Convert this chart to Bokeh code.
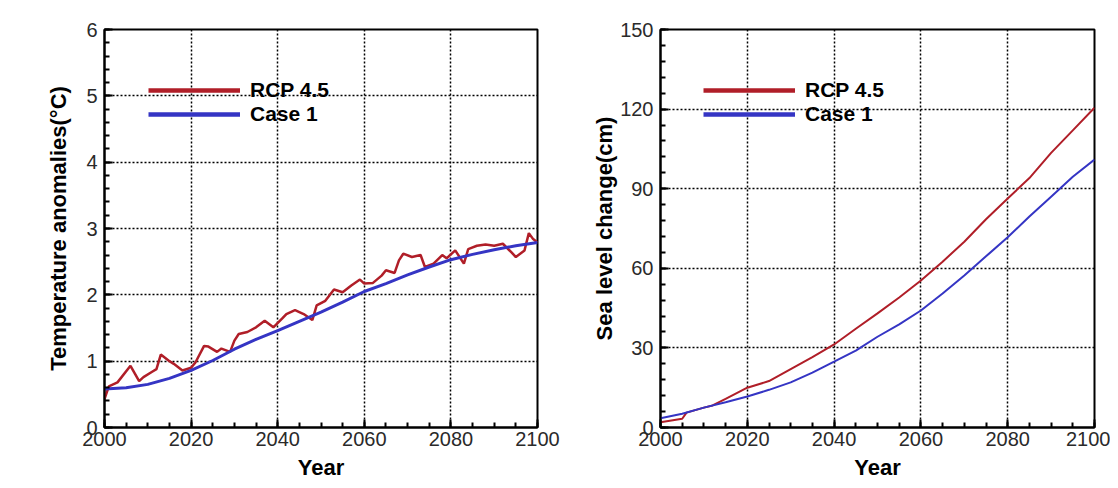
from bokeh.plotting import figure
from bokeh.models import Range1d, FixedTicker, Legend, LegendItem, ColumnDataSource
from bokeh.layouts import row
from bokeh.embed import file_html
from bokeh.resources import INLINE

# ---------------- data ----------------
temp_rcp_years = [2000, 2001, 2003, 2006, 2008, 2009, 2011, 2012, 2013, 2015, 2016, 2018, 2020,
                  2021, 2023, 2024, 2026, 2027, 2029, 2030, 2031, 2033, 2035, 2037, 2039, 2041,
                  2042, 2044, 2046, 2048, 2049, 2051, 2053, 2055, 2057, 2059, 2060, 2062, 2064,
                  2065, 2067, 2068, 2069, 2071, 2073, 2074, 2076, 2078, 2079, 2081, 2083, 2084,
                  2086, 2088, 2090, 2092, 2094, 2095, 2097, 2098, 2099, 2100]
temp_rcp = [0.43, 0.62, 0.68, 0.93, 0.70, 0.76, 0.84, 0.88, 1.10, 1.00, 0.96, 0.86, 0.90,
            0.98, 1.23, 1.22, 1.14, 1.19, 1.14, 1.31, 1.41, 1.44, 1.51, 1.61, 1.51, 1.64,
            1.71, 1.77, 1.71, 1.62, 1.84, 1.91, 2.08, 2.04, 2.14, 2.23, 2.17, 2.18, 2.29,
            2.37, 2.33, 2.52, 2.62, 2.57, 2.60, 2.42, 2.47, 2.60, 2.55, 2.67, 2.47, 2.69,
            2.74, 2.76, 2.74, 2.77, 2.64, 2.57, 2.67, 2.93, 2.84, 2.79]

case_years = [2000, 2005, 2010, 2015, 2020, 2025, 2030, 2035, 2040, 2045, 2050,
              2055, 2060, 2065, 2070, 2075, 2080, 2085, 2090, 2095, 2100]
temp_case1 = [0.58, 0.60, 0.65, 0.74, 0.86, 1.01, 1.18, 1.33, 1.46, 1.60, 1.74,
              1.89, 2.05, 2.17, 2.30, 2.42, 2.53, 2.61, 2.68, 2.74, 2.79]

sea_years = [2000, 2005, 2006, 2010, 2012, 2015, 2020, 2025, 2030, 2035, 2040, 2045, 2050,
             2055, 2060, 2065, 2070, 2075, 2080, 2085, 2090, 2095, 2100]
sea_rcp = [2.0, 3.3, 5.6, 7.5, 8.3, 10.8, 15.0, 17.5, 22.0, 26.5, 31.3, 37.2, 43.0,
           49.0, 55.4, 62.5, 70.0, 78.5, 86.3, 94.0, 103.5, 112.0, 120.5]
sea_case1 = [3.5, 5.2, 7.5, 9.5, 11.7, 14.2, 17.0, 20.7, 24.8, 29.0, 34.2,
             38.9, 44.1, 50.5, 57.3, 64.5, 71.7, 79.5, 87.0, 94.5, 101.0]

series_labels = ["RCP 4.5", "Case 1"]

x_ticks = [2000, 2020, 2040, 2060, 2080, 2100]
x_minor = list(range(2000, 2101, 5))
temp_ticks = [0, 1, 2, 3, 4, 5, 6]
temp_minor = [round(i * 0.2, 1) for i in range(31)]
sea_ticks = [0, 30, 60, 90, 120, 150]
sea_minor = list(range(0, 151, 6))

RED = "#b01e28"
BLUE = "#3535c4"
FONT = "Liberation Sans"


def make_fig(ymax, yticks, yminor, ylabel, fw, min_left, min_right, label_standoff):
    p = figure(frame_width=fw, frame_height=398, output_backend="svg", toolbar_location=None,
               x_range=Range1d(2000, 2100), y_range=Range1d(0, ymax),
               min_border_left=min_left, min_border_right=min_right,
               min_border_top=29, min_border_bottom=53)
    p.background_fill_color = "white"
    p.border_fill_color = "white"
    p.outline_line_color = "black"
    p.outline_line_width = 2
    p.xaxis.ticker = FixedTicker(ticks=x_ticks, minor_ticks=x_minor)
    p.yaxis.ticker = FixedTicker(ticks=yticks, minor_ticks=yminor)
    p.xgrid.ticker = FixedTicker(ticks=x_ticks)
    p.ygrid.ticker = FixedTicker(ticks=yticks)
    for g in (p.xgrid, p.ygrid):
        g.grid_line_color = "black"
        g.grid_line_dash = "2 2"
        g.grid_line_width = 1.5
        g.grid_line_alpha = 1.0
    for ax in (p.xaxis, p.yaxis):
        ax.axis_line_color = "black"
        ax.axis_line_width = 2
        ax.major_tick_in = 8
        ax.major_tick_out = 0
        ax.minor_tick_in = 5
        ax.minor_tick_out = 0
        ax.major_tick_line_width = 2
        ax.minor_tick_line_width = 2
        ax.major_label_text_font = FONT
        ax.major_label_text_font_size = "20px"
        ax.major_label_text_color = "#2a2a2a"
        ax.axis_label_text_font = FONT
        ax.axis_label_text_font_size = "22px"
        ax.axis_label_text_font_style = "bold"
        ax.axis_label_text_color = "black"
    p.xaxis.axis_label = "Year"
    p.xaxis.major_label_standoff = 4
    p.xaxis.axis_label_standoff = 6
    p.yaxis.axis_label = ylabel
    p.yaxis.major_label_standoff = 7
    p.yaxis.axis_label_standoff = label_standoff
    return p


def add_legend(p, x_off, ymax):
    # legend swatches: off-range sample data so only the legend glyph shows
    dummy = ColumnDataSource(data=dict(x=[1800, 1801], y=[-ymax, -ymax]))
    r1 = p.line("x", "y", source=dummy, line_color=RED, line_width=4.5)
    r2 = p.line("x", "y", source=dummy, line_color=BLUE, line_width=4.5)
    leg = Legend(items=[LegendItem(label=series_labels[0], renderers=[r1]),
                        LegendItem(label=series_labels[1], renderers=[r2])],
                 location=(x_off, 301), glyph_width=92, glyph_height=24, label_height=24,
                 label_width=20, spacing=0, padding=0, margin=0, label_standoff=10,
                 background_fill_alpha=0, border_line_alpha=0)
    leg.label_text_font = FONT
    leg.label_text_font_size = "21px"
    leg.label_text_font_style = "bold"
    leg.label_text_color = "black"
    p.add_layout(leg, "center")


# ---------------- left: temperature ----------------
p1 = make_fig(6, temp_ticks, temp_minor, "Temperature anomalies(°C)", 433, 104, 43, 12)
p1.line(temp_rcp_years, temp_rcp, line_color=RED, line_width=2.5)
p1.line(case_years, temp_case1, line_color=BLUE, line_width=3)
add_legend(p1, 44, 6)

# ---------------- right: sea level ----------------
p2 = make_fig(150, sea_ticks, sea_minor, "Sea level change(cm)", 434, 80, 16, 0)
p2.line(sea_years, sea_rcp, line_color=RED, line_width=2)
p2.line(case_years, sea_case1, line_color=BLUE, line_width=2)
add_legend(p2, 43, 150)

layout = row(p1, p2)
open("out.html", "w").write(file_html(layout, INLINE))
